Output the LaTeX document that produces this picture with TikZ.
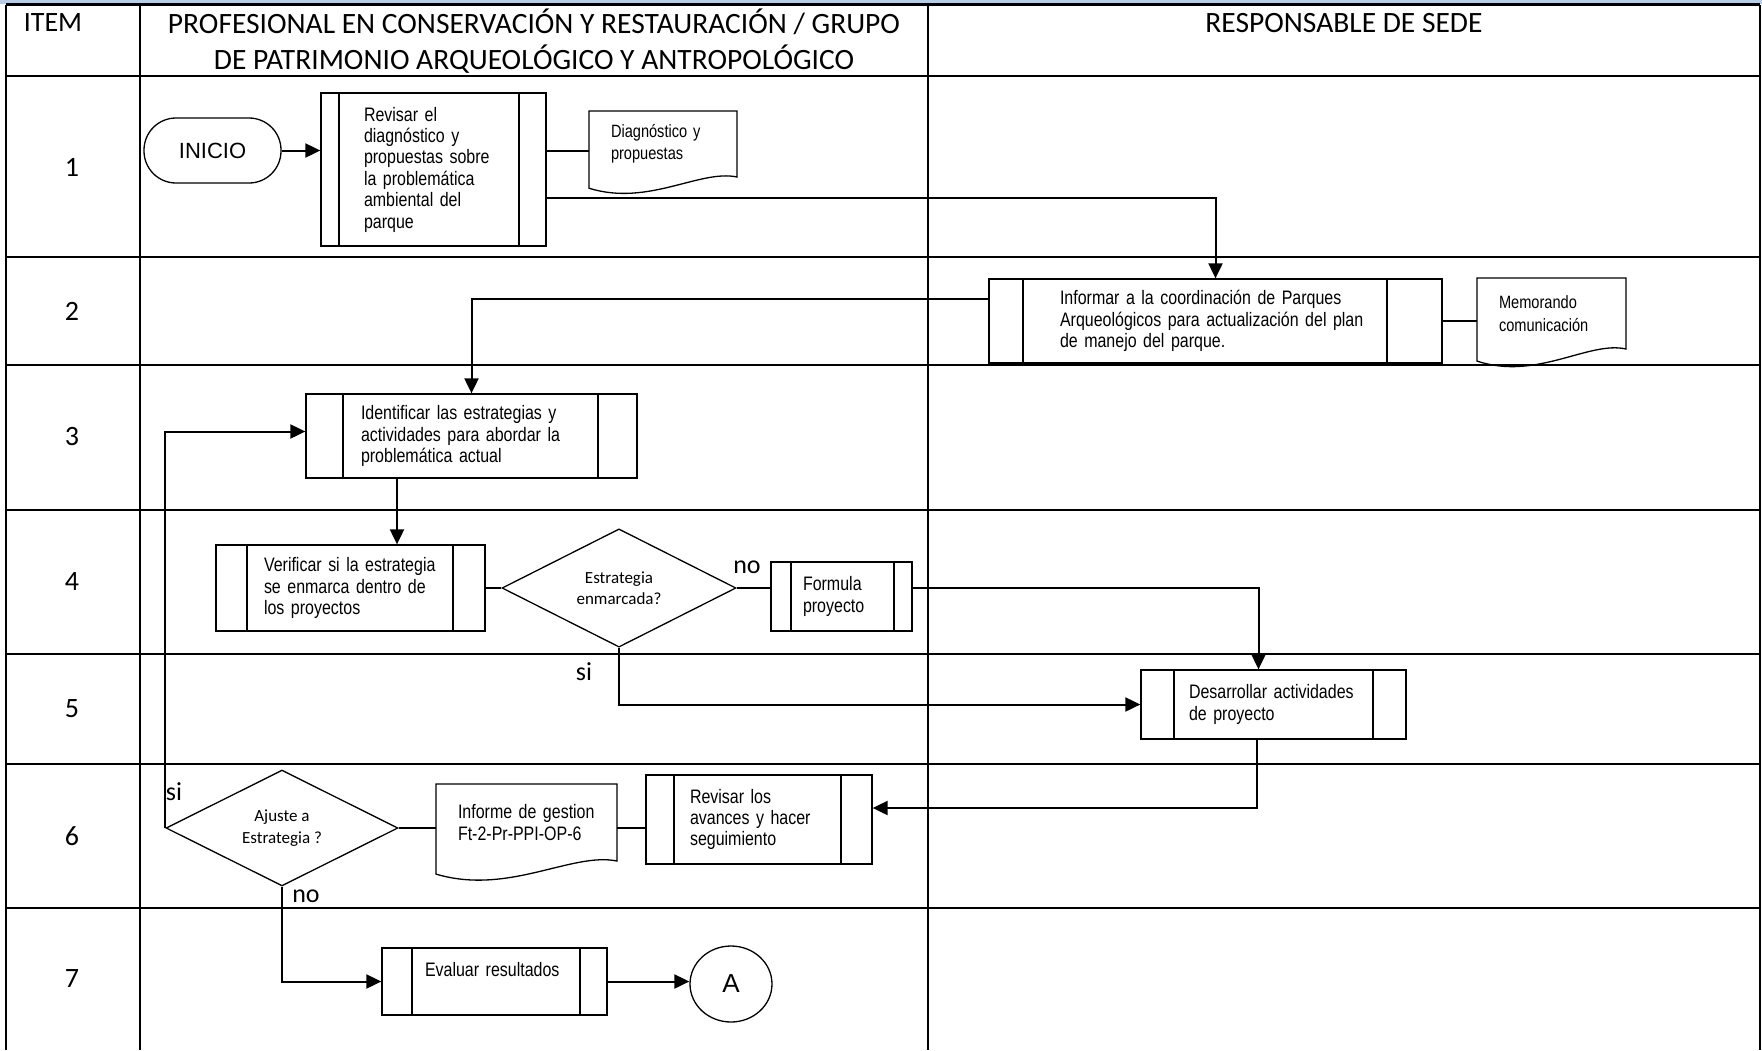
\documentclass[tikz,border=0pt]{standalone}
\usepackage{fontspec}
\setmainfont{Carlito}
\newfontfamily\arialfont{Liberation Sans}
\newfontfamily\arialn[FakeStretch=0.82, WordSpace=0.85]{Liberation Sans}
\usepackage{tikz}
\usetikzlibrary{shapes,arrows.meta,calc}
\definecolor{franja}{RGB}{184,204,228}
\tikzset{
	proceso/.style 2 args = {draw, fill=white, rectangle, line width=1.3pt, inner sep=0pt,
		align=left, font=\arialn\fontsize{19.5}{21.4}\selectfont,
		path picture={
			\draw ([xshift=#1]path picture bounding box.north west) -- ([xshift=#1]path picture bounding box.south west);
			\draw ([xshift=-#2]path picture bounding box.north east) -- ([xshift=-#2]path picture bounding box.south east);}},
	decision/.style   = {draw, fill=white, diamond, line width=1.3pt, inner sep=0pt,
		align=center, font=\fontsize{17}{21.5}\selectfont},
	hoja/.style       = {rectangle, inner sep=0pt, align=left,
		font=\arialn\fontsize{17.8}{22.3}\selectfont},
	terminal/.style   = {draw, rectangle, rounded corners=32pt, line width=1.3pt,
		font=\arialfont\fontsize{22}{26}\selectfont},
	conector/.style   = {draw, ellipse, line width=1.3pt, inner sep=0pt,
		font=\arialfont\fontsize{26}{30}\selectfont},
	encabezado/.style = {font=\fontsize{29.5}{36}\selectfont, align=center, inner sep=0pt},
	etiqueta/.style   = {font=\fontsize{26}{30}\selectfont, inner sep=0pt},
	rejilla/.style    = {line width=2.5pt},
}
% document outline under a text node
\newcommand{\hojaborde}[1]{%
	\draw[line width=1.3pt] let \p1=(#1.north west), \p2=(#1.south east),
		\n1={\x2-\x1}, \n2={\y1-\y2} in
		(\p1) -- (\x2,\y1) -- (\p2)
		.. controls ({\x1+0.75*\n1},{\y2+0.12*\n2}) and ({\x1+0.4*\n1},{\y2-0.45*\n2})
		.. (\x1,{\y2-0.17*\n2}) -- cycle;}

\begin{document}
\begin{tikzpicture}[x=1pt, y=-1pt,
                    line width=2pt,                          %<--connector lines
                    >/.tip={Triangle[length=15pt,width=14pt]} %<--arrow heads
                    ]
    \useasboundingbox (0,0) rectangle (1762,1050);

    %-- Table --%
    \fill[franja] (0,0) rectangle (1762,3.5);
    \draw[rejilla] (6,4.5) -- (1760,4.5);
    \foreach \y in {76,257,365,510,654,764,908}
      \draw[rejilla] (6,\y) -- (1760,\y);
    \foreach \x in {6,140,928,1760}
      \draw[rejilla] (\x,4.5) -- (\x,1050);

    \draw
      node(item) at (53,23) [encabezado, font=\fontsize{28}{36}\selectfont] {ITEM}
      node(profesional) at (534,41) [encabezado] {PROFESIONAL EN CONSERVACIÓN Y RESTAURACIÓN / GRUPO\\DE PATRIMONIO ARQUEOLÓGICO Y ANTROPOLÓGICO}
      node(responsable) at (1344,23) [encabezado] {RESPONSABLE DE SEDE}
    ;
    \foreach \n/\y in {1/167,2/311,3/437,4/582,5/709,6/836,7/979}
      \node[encabezado, font=\fontsize{28}{36}\selectfont] (fila\n) at (72,\y) {\n};

    %-- Blocks creation --%
    \draw
      % ITEM 1 %
      node(inicio) at (212.5,150.5) [terminal, minimum width=137pt, minimum height=65pt] {INICIO}
      node(revisar) at (433.5,169.5) [proceso={18pt}{27pt}, minimum width=225pt, minimum height=153pt, text width=139pt]
        {Revisar el\\diagnóstico y\\propuestas sobre\\la problemática\\ambiental del\\parque}
      node(diagnostico) at (663,144) [hoja, minimum width=146pt, minimum height=64pt, text width=104pt] {Diagnóstico y\\propuestas}

      % ITEM 2 %
      node(informar) at (1215.5,321) [proceso={34pt}{55pt}, minimum width=453pt, minimum height=84pt, text width=311pt]
        {Informar a la coordinación de Parques\\Arqueológicos para actualización del plan\\de manejo del parque.}
      node(memorando) at (1551.5,313.5) [hoja, minimum width=147pt, minimum height=69pt, text width=105pt] {Memorando\\comunicación}

      % ITEM 3 %
      node(identificar) at (471.5,436) [proceso={37pt}{39pt}, minimum width=331pt, minimum height=84pt, text width=221pt]
        {Identificar las estrategias y\\actividades para abordar la\\problemática actual}

      % ITEM 4 %
      node(verificar) at (350.5,588) [proceso={31pt}{32pt}, minimum width=269pt, minimum height=86pt, text width=173pt]
        {Verificar~si~la~estrategia\\se enmarca dentro de\\los proyectos}
      node(enmarcada) at (619,588) [decision, minimum width=234pt, minimum height=108pt] {Estrategia\\enmarcada?}
      node(formula) at (841.5,596.5) [proceso={20pt}{18pt}, minimum width=141pt, minimum height=69pt, text width=77pt] {Formula\\proyecto}

      % ITEM 5 %
      node(desarrollar) at (1273.5,704.5) [proceso={33pt}{33pt}, minimum width=265pt, minimum height=69pt, text width=169pt]
        {Desarrollar~actividades\\de proyecto}

      % ITEM 6 %
      node(ajuste) at (282,828) [decision, minimum width=232pt, minimum height=106pt] {Ajuste a\\Estrategia ?}
      node(informe) at (526.5,822.5) [hoja, font=\arialn\fontsize{19.5}{22}\selectfont, minimum width=179pt, minimum height=75pt, text width=137pt]
        {Informe de gestion\\Ft-2-Pr-PPI-OP-6}
      node(revisarAvances) at (759,819.5) [proceso={28pt}{31pt}, minimum width=226pt, minimum height=89pt, text width=138pt]
        {Revisar los\\avances y hacer\\seguimiento}

      % ITEM 7 %
      node(evaluar) at (494.5,981.5) [proceso={30pt}{27pt}, minimum width=225pt, minimum height=67pt, text width=139pt, text depth=25pt]
        {Evaluar~resultados}
      node(fin) at (731,984) [conector, minimum width=82pt, minimum height=76pt] {A}
    ;
    \hojaborde{diagnostico}
    \hojaborde{memorando}
    \hojaborde{informe}

    %-- Block linking --%
    \draw[->] (inicio.east)    -- (inicio.east -| revisar.west);
    \draw[-]  (inicio.east -| revisar.east) -- (inicio.east -| diagnostico.west);
    \draw[->] ([yshift=-28.5pt]revisar.east) -| (informar.north);

    \draw[-]  (informar.east)  -- (informar.east -| memorando.west);
    \draw[->] ([yshift=22pt]informar.west) -| (identificar.north);

    \draw[->] ([xshift=-74.5pt]identificar.south) -- ([xshift=-74.5pt]identificar.south |- verificar.north);
    \draw[-]  (verificar.east) -- (enmarcada.west);
    \draw[-]  (enmarcada.east) -- (enmarcada.east -| formula.west);
    \draw[->] (enmarcada.east -| formula.east) -| ([xshift=-15pt]desarrollar.north);
    \draw[->] (enmarcada.south) |- (desarrollar.west);

    \draw[->] ([xshift=-17pt]desarrollar.south) |- ([yshift=11.5pt]revisarAvances.east);
    \draw[-]  (revisarAvances.west |- ajuste) -- (informe.east |- ajuste);
    \draw[-]  (informe.west |- ajuste) -- (ajuste.east);
    \draw[->] (ajuste.west)    |- ([yshift=4.5pt]identificar.west);
    \draw[->] (ajuste.south)   |- (evaluar.west);
    \draw[->] (evaluar.east)   -- (evaluar.east -| fin.west);

    %-- Branch labels --%
    \draw
      node(noFormula) at (747,567) [etiqueta] {no}
      node(siDesarrollar) at (584,672) [etiqueta] {si}
      node(siAjuste) at (174,792) [etiqueta] {si}
      node(noEvaluar) at (306,896) [etiqueta] {no}
    ;
\end{tikzpicture}
\end{document}
